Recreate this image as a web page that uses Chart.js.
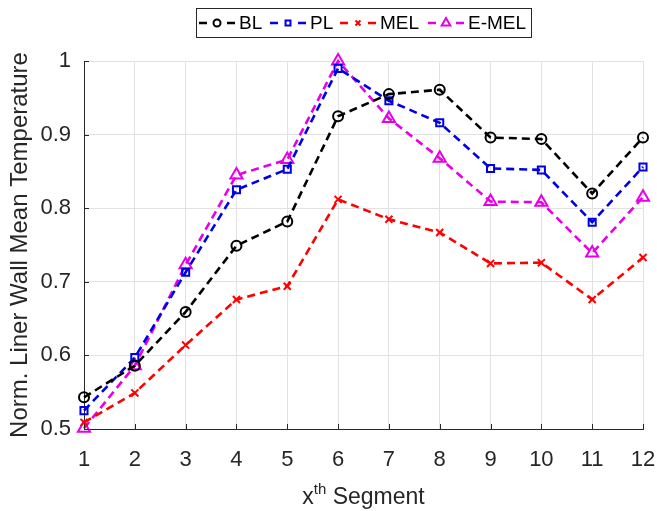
<!DOCTYPE html>
<html>
<head>
<meta charset="utf-8">
<script src="https://cdn.jsdelivr.net/npm/chart.js@4/dist/chart.umd.min.js"></script>
<style>
  html, body { margin: 0; padding: 0; background: #fff; }
  #wrap { width: 657px; height: 511px; position: relative; }
</style>
</head>
<body>
<div id="wrap"><canvas id="tempChart"></canvas></div>
<script>
// segment index along the liner
const segments = [1, 2, 3, 4, 5, 6, 7, 8, 9, 10, 11, 12];

// normalised liner wall mean temperature per case
const blValues   = [0.543, 0.586, 0.659, 0.749, 0.782, 0.925, 0.955, 0.961, 0.896, 0.894, 0.820, 0.896];
const plValues   = [0.525, 0.597, 0.713, 0.825, 0.853, 0.990, 0.946, 0.916, 0.854, 0.852, 0.781, 0.856];
const melValues  = [0.509, 0.549, 0.614, 0.676, 0.694, 0.812, 0.785, 0.767, 0.725, 0.726, 0.676, 0.733];
const emelValues = [0.501, 0.586, 0.723, 0.845, 0.866, 1.000, 0.922, 0.868, 0.809, 0.808, 0.739, 0.815];

const yTicks = [0.5, 0.6, 0.7, 0.8, 0.9, 1];

const FONT = "'Liberation Sans', Arial, Helvetica, sans-serif";
const AXIS_COLOR = '#262626';
const GRID_COLOR = '#e2e2e2';

function toPoints(vals) {
  return vals.map((v, i) => ({ x: segments[i], y: v }));
}

function series(label, vals, color, style, radius) {
  return {
    label: label,
    data: toPoints(vals),
    borderColor: color,
    backgroundColor: 'rgba(0,0,0,0)',
    borderWidth: 2.6,
    borderDash: [8, 5],
    pointStyle: style,
    pointRadius: radius,
    pointHoverRadius: radius,
    pointBorderColor: color,
    pointBackgroundColor: 'rgba(0,0,0,0)',
    pointBorderWidth: 2,
    tension: 0,
    clip: false
  };
}

const datasets = [
  series('BL', blValues, '#000000', 'circle', 5),
  series('PL', plValues, '#0000e6', 'rect', 5),
  series('MEL', melValues, '#ff0000', 'crossRot', 5),
  series('E-MEL', emelValues, '#e600e6', 'triangle', 7)
];

// inward tick marks on the bottom and left axes
const innerTicks = {
  id: 'innerTicks',
  afterDatasetsDraw(chart) {
    const ctx = chart.ctx;
    const a = chart.chartArea;
    const xs = chart.scales.x, ys = chart.scales.y;
    ctx.save();
    ctx.strokeStyle = AXIS_COLOR;
    ctx.lineWidth = 1;
    ctx.beginPath();
    segments.forEach(s => {
      const px = Math.round(xs.getPixelForValue(s)) + 0.5;
      ctx.moveTo(px, a.bottom); ctx.lineTo(px, a.bottom - 5);
    });
    yTicks.forEach(v => {
      const py = Math.round(ys.getPixelForValue(v)) + 0.5;
      ctx.moveTo(a.left, py); ctx.lineTo(a.left + 5, py);
    });
    ctx.stroke();
    ctx.restore();
  }
};

// boxed legend with dashed line samples, plus the x axis title with superscript
const decorations = {
  id: 'decorations',
  afterDraw(chart) {
    const ctx = chart.ctx;
    ctx.save();

    // legend box
    ctx.strokeStyle = '#262626';
    ctx.lineWidth = 1;
    ctx.fillStyle = '#fff';
    ctx.fillRect(196.5, 8.5, 335, 29);
    ctx.strokeRect(196.5, 8.5, 335, 29);

    const items = [
      { ds: 0, x: 199, text: 'BL' },
      { ds: 1, x: 270, text: 'PL' },
      { ds: 2, x: 340, text: 'MEL' },
      { ds: 3, x: 428, text: 'E-MEL' }
    ];
    const cy = 23;
    ctx.font = '19px ' + FONT;
    ctx.textBaseline = 'middle';
    ctx.textAlign = 'left';
    items.forEach(it => {
      const d = chart.data.datasets[it.ds];
      ctx.strokeStyle = d.borderColor;
      ctx.lineWidth = 2.6;
      ctx.setLineDash([]);
      ctx.beginPath();
      ctx.moveTo(it.x, cy); ctx.lineTo(it.x + 8, cy);
      ctx.moveTo(it.x + 28, cy); ctx.lineTo(it.x + 36, cy);
      ctx.stroke();
      ctx.fillStyle = 'rgba(0,0,0,0)';
      ctx.lineWidth = 2;
      Chart.helpers.drawPoint(ctx, {
        pointStyle: d.pointStyle,
        radius: d.pointStyle === 'triangle' ? 5 : 3.5,
        borderWidth: 2,
        rotation: 0
      }, it.x + 18, cy);
      ctx.fillStyle = '#000';
      ctx.fillText(it.text, it.x + 40, cy + 1);
    });

    // x axis title: x^th Segment
    const area = chart.chartArea;
    const mid = (area.left + area.right) / 2;
    const base = 504;
    ctx.fillStyle = AXIS_COLOR;
    ctx.font = '23px ' + FONT;
    const wX = ctx.measureText('x').width;
    const wSeg = ctx.measureText(' Segment').width;
    ctx.font = '15px ' + FONT;
    const wTh = ctx.measureText('th').width;
    let x0 = mid - (wX + wTh + wSeg) / 2;
    ctx.textBaseline = 'alphabetic';
    ctx.font = '23px ' + FONT;
    ctx.fillText('x', x0, base);
    ctx.font = '15px ' + FONT;
    ctx.fillText('th', x0 + wX, base - 10);
    ctx.font = '23px ' + FONT;
    ctx.fillText(' Segment', x0 + wX + wTh, base);

    ctx.restore();
  }
};

new Chart(document.getElementById('tempChart'), {
  type: 'line',
  data: { datasets: datasets },
  options: {
    responsive: true,
    maintainAspectRatio: false,
    animation: false,
    layout: { padding: { top: 61, right: 14, left: 0, bottom: 0 } },
    plugins: {
      legend: { display: false },
      tooltip: { enabled: false }
    },
    scales: {
      x: {
        type: 'linear',
        min: 1,
        max: 12,
        afterFit: s => { s.height = 82; s.paddingLeft = 0; s.paddingRight = 0; },
        ticks: {
          stepSize: 1,
          color: AXIS_COLOR,
          padding: 18,
          font: { family: FONT, size: 22 }
        },
        grid: { color: GRID_COLOR, drawTicks: false },
        border: { color: AXIS_COLOR, width: 1 }
      },
      y: {
        min: 0.5,
        max: 1,
        afterFit: s => { s.width = 84; s.paddingTop = 0; s.paddingBottom = 0; },
        afterBuildTicks: s => { s.ticks = yTicks.map(v => ({ value: v })); },
        ticks: {
          color: AXIS_COLOR,
          padding: 13,
          font: { family: FONT, size: 22 },
          callback: v => String(v)
        },
        grid: { color: GRID_COLOR, drawTicks: false },
        border: { color: AXIS_COLOR, width: 1 },
        title: {
          display: true,
          text: 'Norm. Liner Wall Mean Temperature',
          color: AXIS_COLOR,
          font: { family: FONT, size: 24 },
          padding: { top: 6, bottom: 0 }
        }
      }
    }
  },
  plugins: [innerTicks, decorations]
});
</script>
</body>
</html>
